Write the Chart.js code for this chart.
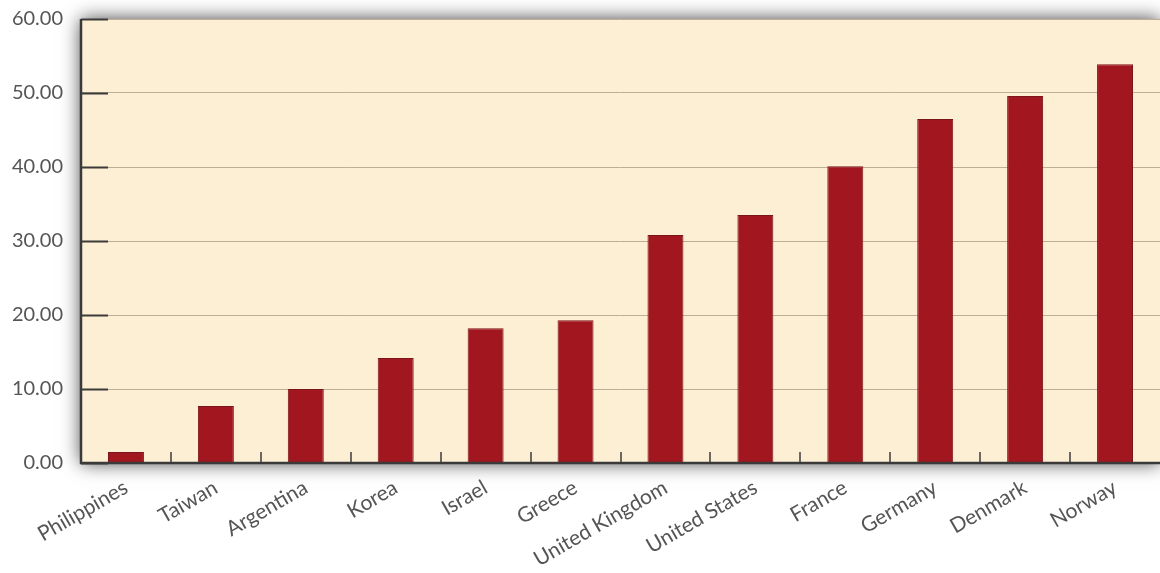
<!DOCTYPE html>
<html>
<head>
<meta charset="utf-8">
<script src="https://cdn.jsdelivr.net/npm/chart.js@4.4.0/dist/chart.umd.min.js"></script>
<style>
  html, body { margin: 0; padding: 0; background: #fff; }
  #wrap { width: 1160px; height: 573px; }
</style>
</head>
<body>
<div id="wrap"><canvas id="bars"></canvas></div>
<script>
const countries = ['Philippines', 'Taiwan', 'Argentina', 'Korea', 'Israel', 'Greece',
  'United Kingdom', 'United States', 'France', 'Germany', 'Denmark', 'Norway'];
const values = [1.5, 7.7, 10.0, 14.2, 18.2, 19.3, 30.8, 33.5, 40.1, 46.5, 49.6, 53.9];
const yTicks = [0, 10, 20, 30, 40, 50, 60];

// cream panel with a soft drop shadow behind the plot
const panel = {
  id: 'panel',
  beforeDraw(chart) {
    const { ctx, chartArea: a } = chart;
    ctx.save();
    ctx.shadowColor = 'rgba(0,0,0,0.75)';
    ctx.shadowBlur = 18;
    ctx.fillStyle = '#fdefd4';
    ctx.fillRect(a.left, a.top, a.right - a.left, a.bottom - a.top);
    ctx.restore();
  },
  afterDatasetsDraw(chart) {
    const { ctx, chartArea: a, scales } = chart;
    const x = scales.x, y = scales.y;
    ctx.save();
    ctx.strokeStyle = '#3b3b3b';
    ctx.lineWidth = 2;
    // short inner ticks on the value axis
    yTicks.forEach(v => {
      const py = Math.round(y.getPixelForValue(v)) + 0.5;
      ctx.beginPath();
      ctx.moveTo(a.left, py);
      ctx.lineTo(a.left + 27, py);
      ctx.stroke();
    });
    // short inner ticks between categories
    ctx.lineWidth = 1.5;
    for (let i = 0; i < countries.length - 1; i++) {
      const px = Math.round((x.getPixelForValue(i) + x.getPixelForValue(i + 1)) / 2);
      ctx.beginPath();
      ctx.moveTo(px, a.bottom);
      ctx.lineTo(px, a.bottom - 11);
      ctx.stroke();
    }
    // axis lines
    ctx.lineWidth = 2.5;
    ctx.strokeStyle = '#3a3a3a';
    ctx.beginPath();
    ctx.moveTo(a.left, a.top);
    ctx.lineTo(a.left, a.bottom);
    ctx.lineTo(a.right, a.bottom);
    ctx.stroke();
    ctx.restore();
  }
};

new Chart(document.getElementById('bars'), {
  type: 'bar',
  data: {
    labels: countries,
    datasets: [{
      data: values,
      backgroundColor: '#a1161f',
      borderColor: '#7c1519',
      borderWidth: 1,
      barPercentage: 0.8,
      categoryPercentage: 0.5
    }]
  },
  plugins: [panel],
  options: {
    responsive: true,
    maintainAspectRatio: false,
    animation: false,
    layout: { padding: { top: 19, left: 0, right: 0, bottom: 0 } },
    plugins: { legend: { display: false }, tooltip: { enabled: false } },
    scales: {
      x: {
        grid: { display: false },
        border: { display: false },
        ticks: {
          color: '#555',
          font: { family: 'Lato', size: 21 },
          minRotation: 30,
          maxRotation: 30,
          autoSkip: false,
          padding: 4
        },
        afterFit(s) { s.height = 110; s.paddingLeft = 0; s.paddingRight = 0; }
      },
      y: {
        min: 0,
        max: 60,
        afterBuildTicks(s) { s.ticks = yTicks.map(v => ({ value: v })); },
        grid: { color: '#bdae95', lineWidth: 1, drawTicks: false },
        border: { display: false },
        ticks: {
          color: '#555',
          font: { family: 'Lato', size: 20 },
          padding: 18,
          callback: v => Number(v).toFixed(2)
        },
        afterFit(s) { s.width = 81; s.paddingTop = 0; s.paddingBottom = 0; }
      }
    }
  }
});
</script>
</body>
</html>
